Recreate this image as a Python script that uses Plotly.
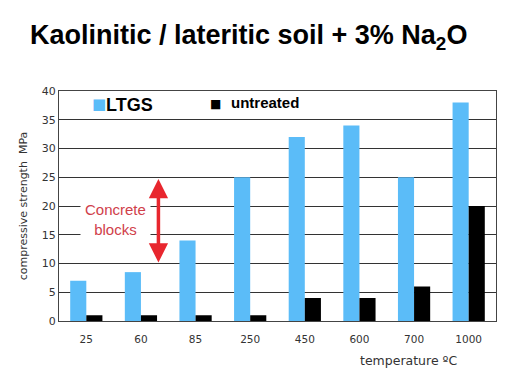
import plotly.graph_objects as go

categories = ["25", "60", "85", "250", "450", "600", "700", "1000"]
ltgs = [7, 8.5, 14, 25, 32, 34, 25, 38]
untreated = [1, 1, 1, 1, 4, 4, 6, 20]
y_ticks = [0, 5, 10, 15, 20, 25, 30, 35, 40]

BLUE = "#5bbcf8"
RED = "#e8262e"

fig = go.Figure()
fig.add_trace(go.Bar(x=categories, y=ltgs, name="LTGS", marker=dict(color=BLUE, line=dict(width=0))))
fig.add_trace(go.Bar(x=categories, y=untreated, name="untreated", marker=dict(color="#000000", line=dict(width=0))))

fig.update_layout(
    width=508, height=388,
    margin=dict(l=59, r=12, t=91, b=67, autoexpand=False),
    paper_bgcolor="white", plot_bgcolor="white",
    barmode="group", bargap=0.41, bargroupgap=0,
    showlegend=False,
    font=dict(family="DejaVu Sans", color="#333333"),
    xaxis=dict(type="category", showgrid=False, ticks="", tickfont=dict(size=10.5, color="#333"),
               ticklabelstandoff=8,
               showline=True, mirror=True, linecolor="#444", linewidth=1, automargin=False),
    yaxis=dict(range=[0, 40], tickvals=y_ticks, showgrid=True, gridcolor="#333", gridwidth=1,
               tickfont=dict(size=11, color="#333"), ticks="", zeroline=False, automargin=False,
               showline=True, mirror=True, linecolor="#444", linewidth=1,
               title=dict(text="compressive strength  MPa", font=dict(size=11, color="#333"), standoff=11)),
    title=dict(text="<b>Kaolinitic / lateritic soil + 3% Na<sub>2</sub>O</b>",
               font=dict(family="Liberation Sans", size=27, color="#000"),
               x=0.059, xanchor="left", yref="container", y=0.91, yanchor="middle",
               automargin=False),
)

annotations = [
    dict(text="■", xref="paper", yref="paper",
         x=0.07, y=0.944, xanchor="left", yanchor="middle", showarrow=False,
         font=dict(family="DejaVu Sans", size=15, color=BLUE)),
    dict(text="<b>LTGS</b>", xref="paper", yref="paper",
         x=0.103, y=0.94, xanchor="left", yanchor="middle", showarrow=False,
         font=dict(family="Liberation Sans", size=18, color="#000")),
    dict(text="■", xref="paper", yref="paper",
         x=0.341, y=0.944, xanchor="left", yanchor="middle", showarrow=False,
         font=dict(family="DejaVu Sans", size=12, color="#000")),
    dict(text="<b>untreated</b>", xref="paper", yref="paper",
         x=0.388, y=0.95, xanchor="left", yanchor="middle", showarrow=False,
         font=dict(family="Liberation Sans", size=15, color="#000")),
    dict(text="Concrete<br>blocks", xref="x", yref="y", x=0.53, y=17.6,
         xanchor="center", yanchor="middle", showarrow=False, bgcolor="white", borderpad=4,
         font=dict(family="Liberation Sans", size=15, color="#d0404a")),
    dict(text="", xref="x", yref="y", axref="x", ayref="y", x=1.32, y=24.7, ax=1.32, ay=9.9,
         showarrow=True, arrowhead=2, startarrowhead=2, arrowside="end+start",
         arrowsize=1.1, startarrowsize=1.1, arrowwidth=3.5, arrowcolor=RED),
    dict(text="temperature ºC", xref="paper", yref="paper", x=0.80, y=-0.17,
         xanchor="center", yanchor="middle", showarrow=False,
         font=dict(family="DejaVu Sans", size=12.5, color="#333")),
]
fig.update_layout(annotations=annotations)

fig.write_html("out.html", config={"displayModeBar": False},
               post_script="document.body.style.margin='0';")
